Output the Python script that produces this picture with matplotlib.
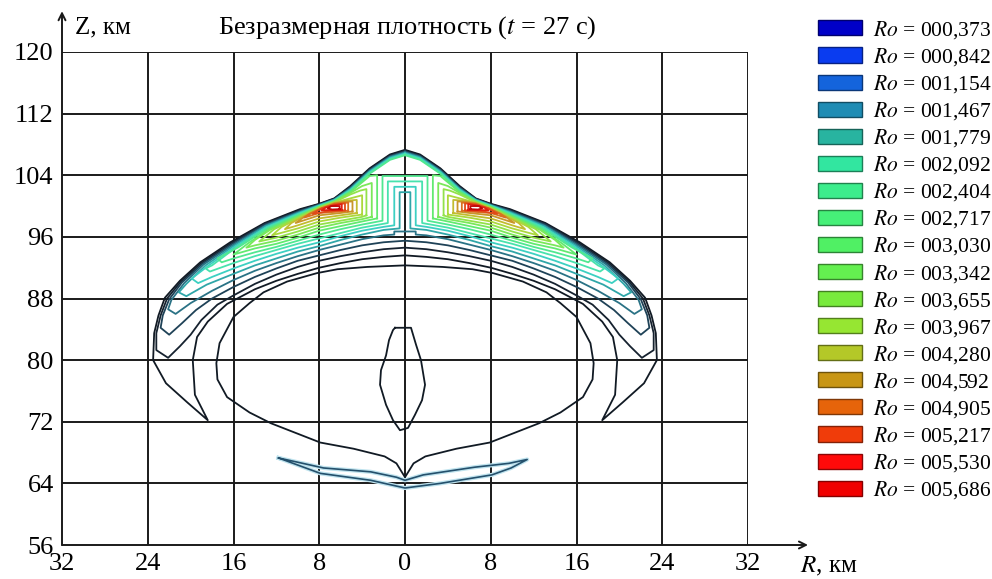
import matplotlib.pyplot as plt
from matplotlib.patches import Patch
from matplotlib.colors import to_rgb

plt.rcParams['font.family'] = ['Liberation Serif', 'DejaVu Serif']
plt.rcParams['mathtext.fontset'] = 'stix'

# ------------------------------------------------------------
# Data (R and Z in km)
# ------------------------------------------------------------
r_ticks = [-32, -24, -16, -8, 0, 8, 16, 24, 32]
z_ticks = [56, 64, 72, 80, 88, 96, 104, 112, 120]

levels = ["000,373", "000,842", "001,154", "001,467", "001,779", "002,092",
          "002,404", "002,717", "003,030", "003,342", "003,655", "003,967",
          "004,280", "004,592", "004,905", "005,217", "005,530", "005,686"]
legend_colors = ["#0000c8", "#0a3cf0", "#1464dc", "#1e8cb4", "#28b4a0", "#32e6a0",
                 "#3ced8c", "#46f078", "#50f064", "#64f050", "#78eb3c", "#96e632",
                 "#b4c828", "#c89614", "#e6640a", "#f03c0a", "#ff0a0a", "#f00000"]
line_colors = ["#111a24", "#16222f", "#1f4257", "#2a7285", "#2fa6a8", "#3cd0c2",
               "#48e2ad", "#50e890", "#62ea70", "#7ae85a", "#92e24a", "#acd83c",
               "#c2bc30", "#c8962a", "#d87020", "#e04a18", "#e02010", "#c00808"]

# levels 1-8: right half, from the top on the axis, out along the front,
# round the tip and back along the inner edge to the axis
lvl01 = [(0, 107.3), (1.4, 106.7), (3.3, 104.9), (5.1, 102.6), (6.6, 101.0), (8.0, 100.3),
         (9.8, 99.6), (13.1, 97.8), (16.3, 95.3), (19.1, 92.7), (21.0, 90.3), (22.4, 88.1),
         (23.0, 85.8), (23.4, 83.5), (23.5, 80.0), (22.3, 77.0), (20.3, 74.5), (18.4, 72.2),
         (19.6, 75.5), (19.8, 80.0), (19.4, 83.0), (18.4, 85.0), (16.6, 87.3), (14.0, 89.2),
         (12.0, 90.3), (10.0, 91.2), (8.0, 92.0), (6.0, 92.6), (4.0, 93.1), (2.0, 93.4), (0, 93.6)]
lvl02 = [(0, 107.2), (1.4, 106.6), (3.3, 104.8), (5.1, 102.5), (6.6, 100.95), (8.0, 100.25),
         (9.8, 99.5), (13.1, 97.7), (16.2, 95.2), (19.0, 92.6), (20.9, 90.2), (22.2, 88.0),
         (22.8, 85.8), (23.2, 83.5), (23.2, 81.3), (22.1, 80.3), (21.0, 81.8), (20.0, 83.3),
         (19.0, 85.2), (17.5, 87.2), (16.0, 88.4), (14.0, 89.9), (12.0, 91.1), (10.0, 92.1),
         (8.0, 92.9), (6.0, 93.5), (4.0, 94.0), (2.0, 94.4), (0, 94.6)]
lvl03 = [(0, 107.1), (1.4, 106.5), (3.3, 104.7), (5.1, 102.4), (6.6, 100.9), (8.0, 100.2),
         (9.8, 99.4), (13.1, 97.6), (16.1, 95.1), (18.9, 92.5), (20.8, 90.1), (22.0, 87.9),
         (22.6, 85.8), (22.8, 84.2), (22.0, 83.3), (20.8, 84.8), (19.5, 86.5), (18.0, 88.0),
         (16.0, 89.5), (14.0, 90.8), (12.0, 91.9), (10.0, 92.9), (8.0, 93.6), (6.0, 94.3),
         (4.0, 94.9), (2.0, 95.3), (0, 95.5)]
lvl04 = [(0, 107.0), (1.4, 106.4), (3.3, 104.6), (5.1, 102.3), (6.6, 100.85), (8.0, 100.15),
         (9.8, 99.3), (13.0, 97.5), (16.0, 95.0), (18.8, 92.4), (20.6, 90.0), (21.8, 87.8),
         (22.1, 86.6), (21.4, 86.0), (20.0, 87.4), (18.0, 89.0), (16.0, 90.4), (14.0, 91.6),
         (12.0, 92.6), (10.0, 93.5), (8.0, 94.3), (6.0, 95.0), (4.0, 95.7), (2.0, 96.2),
         (1.0, 96.3), (1.0, 96.7), (0, 96.7)]
lvl05 = [(0, 106.9), (1.4, 106.3), (3.3, 104.5), (5.1, 102.2), (6.6, 100.8), (8.0, 100.1),
         (9.8, 99.2), (13.0, 97.4), (15.9, 94.9), (18.6, 92.3), (20.4, 89.9), (21.1, 88.8),
         (20.4, 88.3), (18.5, 89.8), (16.0, 91.2), (14.0, 92.3), (12.0, 93.2), (10.0, 94.1),
         (8.0, 94.8), (6.0, 95.6), (4.0, 96.3), (2.0, 96.9), (0.5, 97.1), (0.5, 101.8), (0, 101.8)]
lvl06 = [(0, 106.8), (1.4, 106.2), (3.3, 104.4), (5.1, 102.1), (6.6, 100.75), (8.0, 100.05),
         (9.8, 99.1), (12.9, 97.3), (15.8, 94.8), (18.4, 92.2), (19.9, 90.6), (19.3, 90.0),
         (18.0, 90.8), (16.0, 91.9), (14.0, 92.9), (12.0, 93.8), (10.0, 94.6), (8.0, 95.3),
         (6.0, 96.1), (4.0, 96.8), (2.0, 97.3), (1.0, 97.5), (1.0, 102.5), (0, 102.5)]
lvl07 = [(0, 106.7), (1.4, 106.1), (3.3, 104.3), (5.1, 102.0), (6.6, 100.7), (8.0, 100.0),
         (9.8, 99.0), (12.9, 97.2), (15.7, 94.7), (18.0, 92.3), (18.6, 91.9), (18.2, 91.5),
         (16.0, 92.6), (14.0, 93.5), (12.0, 94.3), (10.0, 95.1), (8.0, 95.8), (6.0, 96.5),
         (4.0, 97.2), (1.6, 97.8), (1.6, 103.2), (0, 103.2)]
lvl08 = [(0, 106.6), (1.4, 106.0), (3.3, 104.2), (5.1, 101.9), (6.6, 100.65), (8.0, 99.95),
         (9.8, 98.9), (12.8, 97.1), (15.6, 94.6), (17.5, 93.2), (17.1, 92.7), (16.0, 93.2),
         (14.0, 94.0), (12.0, 94.7), (10.0, 95.5), (8.0, 96.3), (6.0, 97.0), (4.0, 97.6),
         (2.1, 98.1), (2.1, 103.9), (0, 103.9)]

# levels 9-18: closed loops round the right-hand peak (mirrored for the left one)
lvl09 = [(2.6, 98.4), (2.6, 104.0), (3.3, 103.9), (5.1, 101.8), (6.6, 100.6), (8.0, 99.9),
         (9.8, 98.8), (12.7, 97.0), (14.6, 95.2), (16.0, 93.7), (14.0, 94.5), (12.0, 95.1),
         (10.0, 95.9), (8.0, 96.8), (6.0, 97.4), (4.0, 98.0), (2.6, 98.4)]
lvl10 = [(3.1, 98.6), (3.1, 103.0), (4.0, 102.6), (5.1, 101.7), (6.6, 100.55), (8.0, 99.85),
         (9.8, 98.7), (12.6, 96.9), (14.0, 95.6), (14.8, 94.6), (14.0, 94.9), (12.0, 95.5),
         (10.0, 96.3), (8.0, 97.2), (6.0, 97.8), (4.0, 98.3), (3.1, 98.6)]
lvl11 = [(3.6, 98.8), (3.6, 102.2), (4.2, 102.0), (5.1, 101.5), (6.6, 100.5), (8.0, 99.8),
         (9.8, 98.6), (12.2, 97.0), (13.6, 95.4), (12.0, 95.9), (10.0, 96.7), (8.0, 97.6),
         (6.0, 98.1), (4.0, 98.6), (3.6, 98.8)]
lvl12 = [(4.0, 98.9), (4.0, 101.4), (5.1, 101.0), (6.6, 100.45), (8.0, 99.75), (9.8, 98.5),
         (11.5, 97.3), (12.4, 96.2), (10.0, 97.1), (8.0, 98.0), (6.0, 98.5), (4.0, 98.9)]
lvl13 = [(4.5, 99.1), (4.5, 100.8), (5.5, 100.7), (6.6, 100.4), (8.0, 99.7), (9.8, 98.4),
         (10.6, 97.8), (11.2, 97.0), (10.0, 97.5), (8.0, 98.4), (6.0, 98.8), (4.5, 99.1)]
lvl14 = [(4.9, 99.3), (4.9, 100.6), (5.7, 100.55), (6.6, 100.35), (8.0, 99.6), (9.4, 98.6),
         (10.2, 97.8), (8.0, 98.8), (6.0, 99.1), (4.9, 99.3)]
lvl15 = [(5.3, 99.4), (5.3, 100.45), (6.6, 100.3), (8.0, 99.55), (8.9, 99.0), (9.4, 98.5),
         (8.0, 99.1), (6.0, 99.3), (5.3, 99.4)]
lvl16 = [(5.6, 99.45), (5.6, 100.35), (6.6, 100.2), (7.8, 99.7), (8.6, 99.0), (7.0, 99.35),
         (5.6, 99.45)]
lvl17 = [(5.9, 99.5), (5.9, 100.25), (6.6, 100.1), (7.4, 99.8), (7.8, 99.45), (6.6, 99.5),
         (5.9, 99.5)]
lvl18 = [(6.1, 99.6), (6.1, 100.0), (6.9, 100.0), (7.2, 99.7), (6.8, 99.55), (6.1, 99.6)]

# inner oval (right half, top on the axis down to the cusp at the bottom)
oval_right = [(0, 92.3), (3.5, 92.1), (6.3, 91.8), (8.2, 91.3), (11.0, 90.2), (13.2, 88.8),
              (14.5, 87.4), (16.0, 85.6), (17.3, 82.2), (17.6, 79.6), (17.5, 77.5), (16.6, 75.2),
              (14.5, 73.2), (12.5, 71.8), (7.9, 69.3), (4.8, 68.5), (1.9, 67.5), (0.8, 66.6),
              (0, 64.8)]

# small closed blob on the axis
blob_r = [-0.93, 0.56, 1.03, 1.49, 1.87, 1.59, 0.93, 0.28, -0.47, -1.12, -1.77, -2.33,
          -2.24, -1.77, -1.49, -1.12, -0.93]
blob_z = [84.2, 84.2, 82.0, 80.0, 76.8, 74.8, 72.9, 71.2, 70.9, 72.2, 74.2, 76.8,
          78.7, 80.6, 82.6, 83.9, 84.2]

# thin "wings" at the bottom
wing_r = [-11.8, -7.6, -3.2, -0.8, 0.0, 1.7, 6.5, 9.7, 11.4, 9.9, 8.1, 3.3, 0.0, -3.2,
          -7.9, -11.8]
wing_z = [67.3, 66.0, 65.5, 64.8, 64.4, 65.1, 66.1, 66.6, 67.1, 66.0, 65.1, 64.0, 63.4,
          64.4, 65.3, 67.3]


def through_axis(right):
    # close a right-half curve with its mirror image
    left = [(-r, z) for r, z in reversed(right)]
    pts = right + left[1:]
    return [p[0] for p in pts], [p[1] for p in pts]


def split(loop):
    return [p[0] for p in loop], [p[1] for p in loop]


def mirrored(loop):
    return [-p[0] for p in loop], [p[1] for p in loop]


fig = plt.figure(figsize=(9.92, 5.79), dpi=100)
ax = fig.add_axes([62 / 992, 34 / 579, 686 / 992, 493 / 579])
ax.set_xlim(-32, 32)
ax.set_ylim(56, 120)
for s in ax.spines.values():
    s.set_visible(False)

# grid
ax.vlines(r_ticks[1:], 56, 120, color="#1a1a1a", lw=1.4, zorder=1)
ax.hlines(z_ticks[1:], -32, 32, color="#1a1a1a", lw=1.4, zorder=1)

# axes with arrows
arrow = dict(arrowstyle="->,head_length=0.5,head_width=0.25", lw=1.4, color="#1a1a1a",
             shrinkA=0, shrinkB=0)
ax.annotate("", xy=(37.6, 56), xytext=(-32, 56), annotation_clip=False, arrowprops=arrow)
ax.annotate("", xy=(-32, 125.3), xytext=(-32, 56), annotation_clip=False, arrowprops=arrow)

ax.set_xticks(r_ticks)
ax.set_xticklabels([str(abs(v)) for v in r_ticks])
ax.set_yticks(z_ticks)
ax.tick_params(length=0, labelsize=19, pad=6)

lw = 1.3
r, z = through_axis(oval_right)
ax.plot(r, z, color=line_colors[0], lw=lw, zorder=2)
ax.plot(blob_r, blob_z, color=line_colors[0], lw=lw, zorder=2)
ax.plot(wing_r, wing_z, color="#bfe3ee", lw=3.0, zorder=2)
ax.plot(wing_r, wing_z, color="#24506c", lw=1.2, zorder=2)

crossing = [lvl01, lvl02, lvl03, lvl04, lvl05, lvl06, lvl07, lvl08]
lobes = [lvl09, lvl10, lvl11, lvl12, lvl13, lvl14, lvl15, lvl16, lvl17, lvl18]

for i, right in enumerate(crossing):
    r, z = through_axis(right)
    ax.plot(r, z, color=line_colors[i], lw=lw, zorder=3 + i)

for j, loop in enumerate(lobes):
    i = j + len(crossing)
    r, z = split(loop)
    ax.plot(r, z, color=line_colors[i], lw=lw, zorder=3 + i)
    r, z = mirrored(loop)
    ax.plot(r, z, color=line_colors[i], lw=lw, zorder=3 + i)

# texts
fig.text(407 / 992, 1 - 28 / 579, "Безразмерная плотность ($\\mathit{t}$ = 27 с)",
         ha="center", va="center", fontsize=19)
fig.text(75 / 992, 1 - 27 / 579, "Z, км", ha="left", va="center", fontsize=18)
fig.text(800 / 992, 1 - 566 / 579, "$\\mathit{R}$, км", ha="left", va="center", fontsize=18)

# legend
handles = []
for lab, c in zip(levels, legend_colors):
    edge = tuple(v * 0.55 for v in to_rgb(c))
    handles.append(Patch(facecolor=c, edgecolor=edge, lw=1.0,
                         label="$\\mathit{Ro}$ = " + lab))
fig.legend(handles=handles, loc="upper left", bbox_to_anchor=(818 / 992, 1 - 19 / 579),
           frameon=False, fontsize=15.5, handlelength=2.05, handleheight=0.7,
           handletextpad=0.5, labelspacing=0.24, borderaxespad=0, borderpad=0)

fig.savefig("out.png", dpi=100)
